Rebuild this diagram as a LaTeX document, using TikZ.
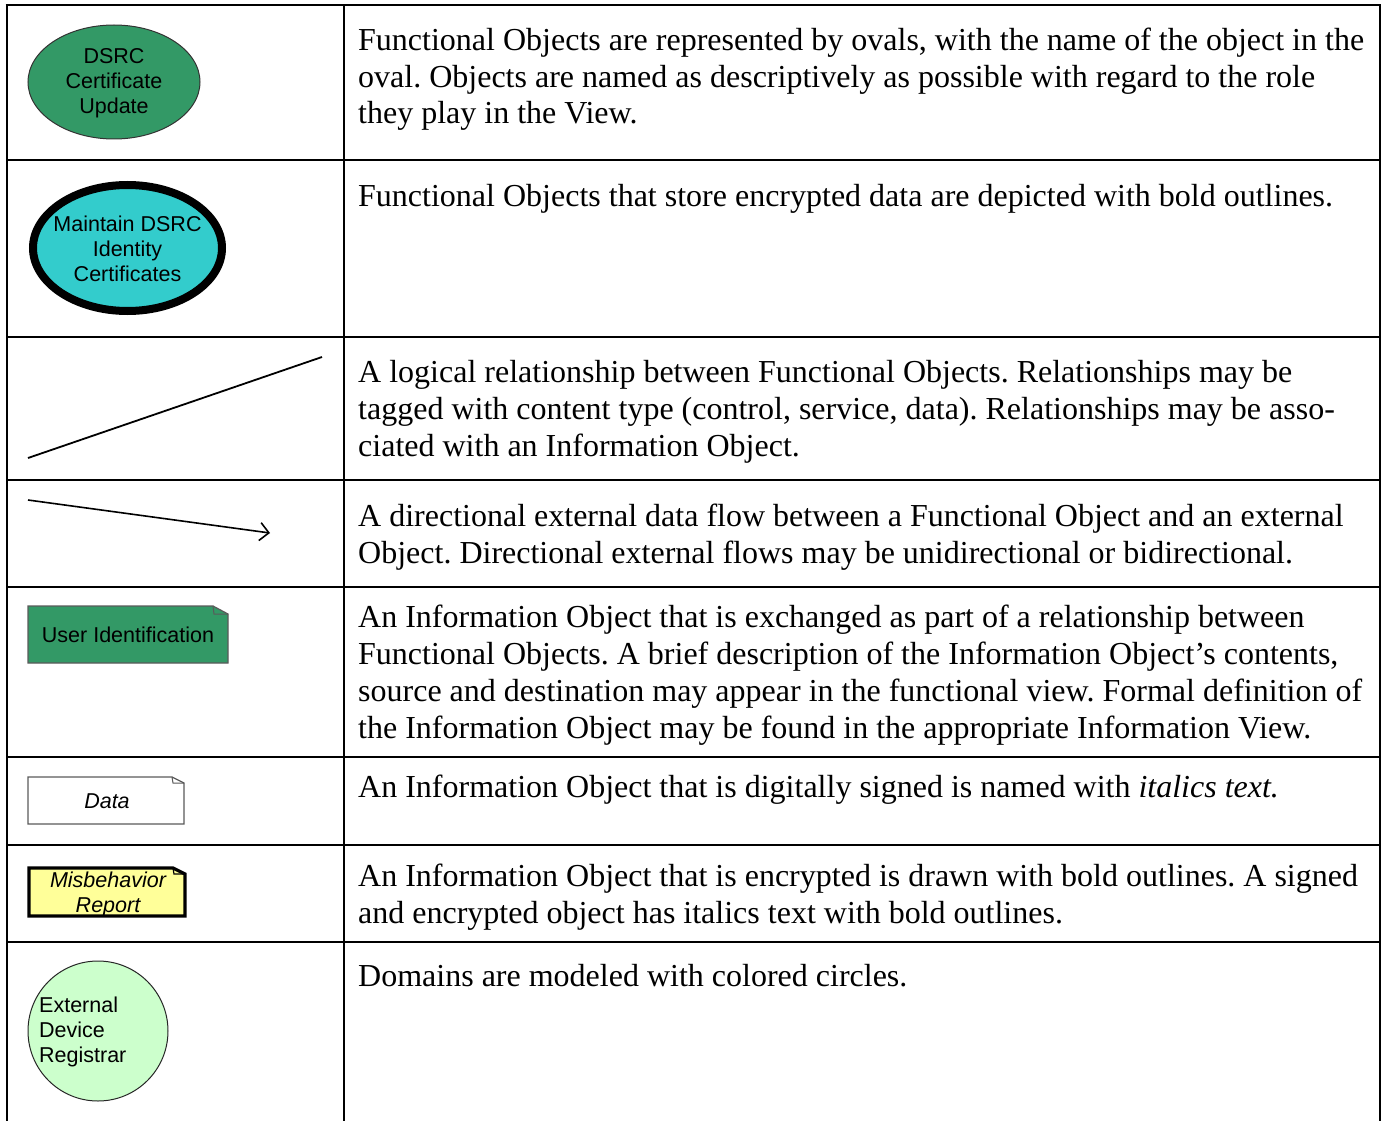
\documentclass[tikz,border=0pt]{standalone}
\usepackage{fontspec}
\setmainfont{Liberation Serif}
\newfontfamily\arialfont{Liberation Sans}
\usetikzlibrary{arrows.meta,shapes.geometric}
\definecolor{fogreen}{RGB}{51,153,102}
\definecolor{focyan}{RGB}{51,204,204}
\definecolor{ioyellow}{RGB}{255,255,153}
\definecolor{domgreen}{RGB}{204,255,204}
\definecolor{iogray}{RGB}{90,90,90}
\frenchspacing
\begin{document}
\begin{tikzpicture}[x=1pt,y=-1pt,
  grid/.style={line width=2.8pt},
  % descriptions are placed by the baseline of their last line
  desc/.style={anchor=base west, align=left, inner sep=0pt,
    font=\fontsize{32}{36.7}\selectfont},
  shapetext/.style={inner sep=0pt, align=center,
    font=\arialfont\fontsize{21.5}{25}\selectfont},
  fobj/.style={ellipse, draw=black!80, line width=1pt, inner sep=0pt},
  iobox/.style={draw=iogray, line width=1.2pt, line join=miter},
]
\useasboundingbox (0,0) rectangle (1382,1121);

% table rules
\draw[grid] (5.6,5) -- (1381.4,5);
\foreach \yy in {160,337,480,587,757,845,942}
  \draw[grid] (7,\yy) -- (1380,\yy);
\draw[grid] (7,5) -- (7,1130);
\draw[grid] (344,5) -- (344,1130);
\draw[grid] (1380,5) -- (1380,1130);

% row 1: functional object
\node[fobj, fill=fogreen, minimum width=172, minimum height=114] (fo) at (114,82) {};
\node[shapetext] (fotext) at (114,83) {DSRC\\Certificate\\Update};
\node[desc] (d1) at (358,124) {Functional Objects are represented by ovals, with the name of the object in the\\
oval. Objects are named as descriptively as possible with regard to the role\\
they play in the View.};

% row 2: encrypted functional object
\node[fobj, draw=black, line width=8pt, fill=focyan, minimum width=189, minimum height=126] (foe) at (127.5,248) {};
\node[shapetext] (foetext) at (127.5,249) {Maintain DSRC\\Identity\\Certificates};
\node[desc] (d2) at (358,206) {Functional Objects that store encrypted data are depicted with bold outlines.};

% row 3: relationship
\coordinate (r1) at (28,458);
\coordinate (r2) at (322,357);
\draw[line width=1.8pt] (r1) -- (r2);
\node[desc] (d3) at (358,456) {A logical relationship between Functional Objects. Relationships may be\\
tagged with content type (control, service, data). Relationships may be asso-\\
ciated with an Information Object.};

% row 4: directional flow
\coordinate (f1) at (28,500);
\coordinate (f2) at (270,533);
\draw[line width=1.6pt, -{Straight Barb[length=9pt,width=18pt,line width=1.6pt]}] (f1) -- (f2);
\node[desc] (d4) at (358,563) {A directional external data flow between a Functional Object and an external\\
Object. Directional external flows may be unidirectional or bidirectional.};

% row 5: information object
\path[iobox, fill=fogreen] (28,606) -- (213,606) -- (228,614) -- (228,663) -- (28,663) -- cycle;
\draw[iogray, line width=1pt] (213,606) -- (214,614) -- (228,614);
\node[shapetext] (io) at (128,635) {User Identification};
\node[desc] (d5) at (358,738) {An Information Object that is exchanged as part of a relationship between\\
Functional Objects. A brief description of the Information Object’s contents,\\
source and destination may appear in the functional view. Formal definition of\\
the Information Object may be found in the appropriate Information View.};

% row 6: signed information object
\path[iobox, fill=white] (28,777) -- (172,777) -- (184,783) -- (184,824) -- (28,824) -- cycle;
\draw[iogray, line width=1pt] (172,777) -- (173,783) -- (184,783);
\node[shapetext, font=\arialfont\itshape\fontsize{21.5}{25}\selectfont] (ios) at (107,801) {Data};
\node[desc] (d6) at (358,797) {An Information Object that is digitally signed is named with \textit{italics text.}};

% row 7: encrypted information object
\path[draw=black, line width=3.2pt, fill=ioyellow, line join=miter] (29,868) -- (173,868) -- (185,874) -- (185,916) -- (29,916) -- cycle;
\draw[black, line width=1.2pt] (173,868) -- (174,874) -- (185,874);
\node[shapetext, font=\arialfont\itshape\fontsize{21.5}{25}\selectfont] (ioe) at (108,894) {Misbehavior\\Report};
\node[desc] (d7) at (358,923) {An Information Object that is encrypted is drawn with bold outlines. A signed\\
and encrypted object has italics text with bold outlines.};

% row 8: domain
\node[circle, draw=black!85, line width=1pt, fill=domgreen, minimum size=140, inner sep=0pt] (dom) at (98,1031) {};
\node[shapetext, align=left, anchor=west] (domtext) at (39,1032) {External\\Device\\Registrar};
\node[desc] (d8) at (358,986) {Domains are modeled with colored circles.};
\end{tikzpicture}
\end{document}
